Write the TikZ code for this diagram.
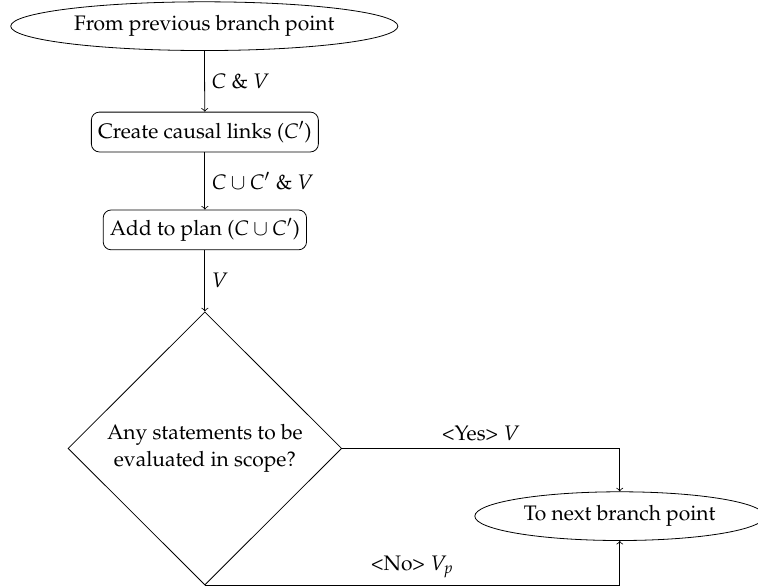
\documentclass[tikz,border=0pt]{standalone}
\usepackage[T1]{fontenc}
\usepackage{mathpazo}
\usetikzlibrary{shapes.geometric}

\tikzset{
    startstop/.style={ellipse, draw, minimum height=0.84cm},
    process/.style={rectangle, rounded corners, draw, minimum height=0.7cm},
    decision/.style={diamond, draw, align=center, inner sep=0pt,
        minimum width=4.81cm, minimum height=4.8cm},
    flow/.style={->}
}

\begin{document}
\begin{tikzpicture}[font=\fontsize{10.5}{13.5}\selectfont]
    \useasboundingbox (0,0) rectangle (13.32,10.30);

    % Nodes
    \node[startstop] (prev) at (3.59,9.84) {From previous branch point};
    \node[process] (links) at (3.6,7.98) {Create causal links ($C'$)};
    \node[process] (plan) at (3.6,6.26) {Add to plan ($C \cup C'$)};
    \node[decision] (scope) at (3.6,2.42) {Any statements to be\\evaluated in scope?};
    \node[startstop] (next) at (10.89,1.23) {To next branch point};

    % Connectors
    \draw[flow] (prev) -- node[right] {$C$ \& $V$} (links);
    \draw[flow] (links) -- node[right] {$C \cup C'$ \& $V$} (plan);
    \draw[flow] (plan) -- node[right] {$V$} (scope);
    \draw[flow] (scope.east) -| node[pos=0.25, above] {<Yes> $V$} (next.north);
    \draw[flow] (scope.south) -| node[pos=0.25, above] {<No> $V_p$} (next.south);
\end{tikzpicture}
\end{document}
